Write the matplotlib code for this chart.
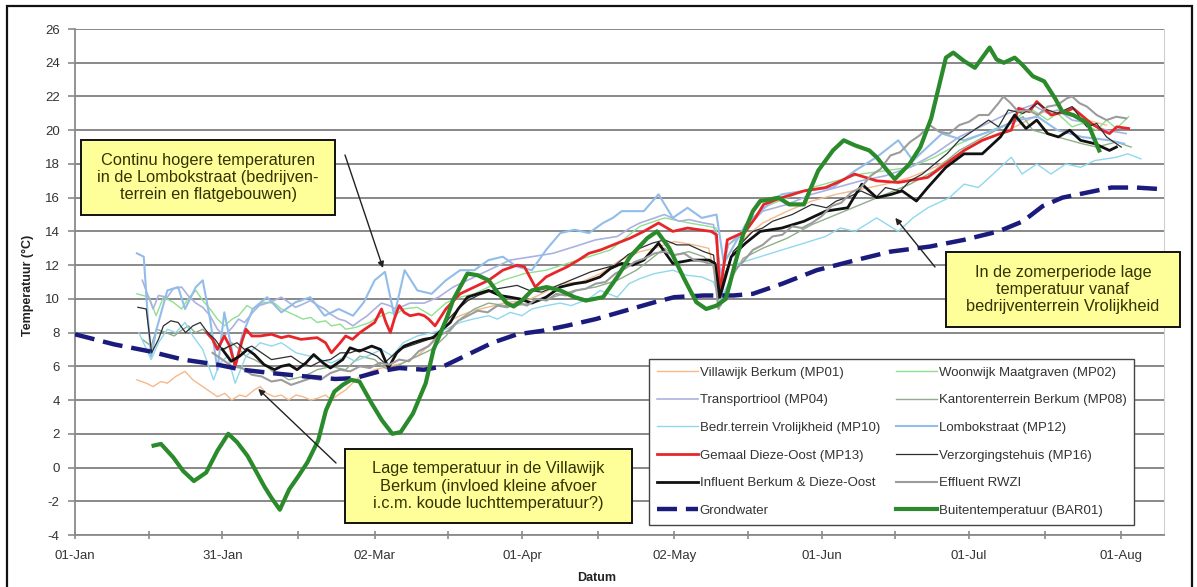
import numpy as np
import matplotlib
matplotlib.use("Agg")
import matplotlib.pyplot as plt
import matplotlib.dates as mdates
from matplotlib.patches import Rectangle

plt.rcParams['font.family'] = ['Liberation Sans', 'DejaVu Sans']
plt.rcParams['axes.unicode_minus'] = False

# Meetreeks 2008, (dag sinds 1 januari, temperatuur in graden C)
villawijk_mp01 = [(12.6, 5.2), (14.5, 5.0), (15.9, 4.8), (17.5, 5.1), (18.8, 5.0), (20.5, 5.4), (22.4, 5.7),
                  (24, 5.2), (26, 4.8), (27.5, 4.5), (29, 4.2), (30.5, 4.4), (31.9, 4.0), (33.5, 4.3), (34.8, 4.2),
                  (36.5, 4.6), (37.7, 4.8), (39, 4.4), (40.6, 4.2), (42, 4.3), (43.5, 4.0), (45, 4.3), (46.4, 4.2),
                  (48, 4.0), (49.3, 4.1), (51, 4.3), (52.2, 4.0), (53.5, 4.3), (55.1, 4.6), (56.5, 5.0), (58, 5.4),
                  (61, 5.8), (63.9, 6.0), (66.8, 6.2), (69.7, 6.6), (72.6, 7.4), (75.5, 8.6), (78.4, 9.0), (81, 9.3),
                  (84, 9.5), (88, 9.8), (92, 9.9), (95, 10.3), (99, 10.9), (103, 11.0), (107, 11.5), (111, 12.3),
                  (115, 12.8), (118, 13.0), (122, 13.4), (126, 13.2), (129, 13.0), (131, 10.5), (134, 12.8),
                  (137, 13.8), (140, 14.5), (145, 15.2), (150, 15.8), (155, 16.2), (160, 16.5), (165, 16.8),
                  (170, 17.2), (175, 17.8), (180, 18.6), (185, 19.4), (190, 20.0), (194, 20.6), (198, 21.2),
                  (202, 20.9), (206, 20.6), (210, 20.3)]

woonwijk_mp02 = [(12.6, 10.3), (15.1, 10.1), (16.5, 9.0), (18, 10.1), (20, 9.8), (21.7, 9.4), (23, 10.0),
                 (24.6, 10.5), (26, 9.9), (27.5, 9.4), (29, 8.8), (30.4, 8.4), (32, 8.8), (33.3, 9.0), (35, 9.6),
                 (36.2, 9.4), (38.5, 9.8), (40.6, 9.75), (42, 9.4), (43.5, 9.2), (45, 9.0), (46.4, 8.8), (48, 8.9),
                 (49.3, 8.6), (51, 8.7), (52.2, 8.4), (54, 8.5), (55.1, 8.2), (57, 8.3), (58, 8.4), (60, 8.6),
                 (61, 8.8), (62.5, 9.0), (63.9, 9.2), (65.5, 9.1), (66.8, 9.4), (69.7, 9.5), (72.6, 9.0),
                 (75.5, 9.75), (78.4, 10.1), (81.3, 10.3), (84.2, 10.7), (87.1, 11.1), (91.5, 11.5), (95.9, 11.7),
                 (100.2, 12.1), (104.6, 12.5), (109, 12.9), (112, 13.6), (115, 14.3), (118, 14.6), (120, 14.8),
                 (125, 14.5), (129, 14.3), (130.5, 14.2), (131.5, 11.0), (133, 13.2), (136, 13.8), (140, 15.4),
                 (145, 16.0), (150, 16.6), (155, 17.0), (160, 17.4), (165, 17.6), (170, 17.8), (175, 18.4),
                 (180, 19.2), (185, 19.8), (190, 20.4), (193, 21.0), (195, 21.2), (198, 20.6), (200, 21.0),
                 (203, 20.2), (205, 20.4), (208, 20.0), (210, 20.6), (212, 20.1), (214.5, 20.8)]

transportriool_mp04 = [(13.7, 11.1), (15.9, 9.4), (17, 10.2), (18.8, 10.1), (20, 10.6), (21.7, 10.7), (23, 10.2),
                       (24.6, 9.75), (26, 9.5), (27.5, 9.0), (29, 8.2), (30.4, 7.8), (32, 8.3), (33.3, 8.8),
                       (34.5, 8.6), (36.2, 9.2), (37.5, 9.6), (39.1, 9.75), (40.5, 9.9), (42, 10.1), (43.5, 9.8),
                       (44.9, 9.5), (46.5, 9.7), (47.9, 9.9), (49.5, 9.6), (50.8, 9.4), (52, 9.1), (53.7, 8.8),
                       (55, 8.7), (56.6, 8.4), (58, 8.7), (59.5, 9.0), (61, 9.4), (62.4, 9.75), (64, 9.6),
                       (65.3, 9.4), (67, 9.6), (68.2, 9.75), (71.1, 9.75), (74, 10.1), (77, 10.7), (79.9, 11.1),
                       (84.2, 11.7), (88.6, 12.3), (93, 12.5), (97.3, 12.7), (101.7, 13.1), (106, 13.5),
                       (110.4, 13.7), (113, 14.2), (115, 14.5), (118, 14.8), (120, 15.0), (123, 14.6), (125, 14.7),
                       (128, 14.5), (130, 14.4), (131.5, 11.5), (133, 13.2), (136, 14.0), (140, 15.2), (145, 15.6),
                       (150, 16.2), (155, 16.6), (160, 17.0), (165, 17.3), (170, 17.8), (175, 18.6), (180, 19.6),
                       (185, 20.3), (190, 21.0), (195, 21.5), (198, 21.0), (200, 21.2), (203, 20.6), (205, 20.5),
                       (208, 20.2), (210, 20.0), (214, 19.8)]

kantoren_mp08 = [(13.7, 7.6), (15.5, 7.2), (16.6, 8.2), (18.5, 8.0), (20.2, 7.8), (21.5, 8.1), (23.1, 8.4),
                 (24.5, 8.0), (26, 8.2), (27.5, 7.8), (29, 7.2), (30.5, 7.0), (31.9, 7.4), (33.5, 7.0), (34.8, 6.6),
                 (36.5, 6.4), (37.7, 6.2), (39, 6.0), (40.6, 5.6), (42, 5.5), (43.5, 5.2), (45, 5.3), (46.4, 5.4),
                 (48, 5.6), (49.3, 5.8), (50.8, 5.9), (52.2, 6.0), (53.5, 5.9), (55.1, 5.8), (56.5, 6.2), (58, 6.6),
                 (59.5, 6.5), (61, 6.4), (62.5, 6.0), (63.9, 5.8), (65.5, 6.0), (66.8, 6.2), (68, 6.4), (69.7, 6.6),
                 (72.6, 7.0), (75.5, 7.8), (78.4, 8.8), (81.3, 9.4), (84.2, 9.75), (88.6, 9.55), (93, 9.75),
                 (97.3, 10.1), (101.7, 10.5), (106, 10.7), (110.4, 11.1), (114.3, 11.7), (117, 12.3), (120, 13.0),
                 (122, 12.6), (125, 12.8), (128, 12.5), (130, 12.0), (131.5, 9.6), (134, 11.4), (136, 12.4),
                 (140, 13.0), (145, 13.6), (150, 14.4), (155, 15.0), (160, 15.6), (165, 16.2), (170, 16.8),
                 (175, 17.6), (180, 18.8), (185, 19.6), (190, 20.4), (193, 20.8), (195, 20.0), (200, 19.6),
                 (205, 19.2), (208, 19.0), (212, 19.3), (215, 19.0)]

vrolijkheid_mp10 = [(13, 8.0), (15.5, 6.4), (17, 7.4), (18.8, 8.2), (20.5, 8.0), (22.4, 8.6), (24, 7.8), (26, 7.0),
                    (28.2, 5.2), (29.5, 6.2), (31.1, 6.6), (32.6, 5.0), (34.8, 6.6), (37.7, 7.4), (40, 7.2),
                    (42, 7.4), (45, 6.8), (47.9, 6.6), (50, 6.4), (52.2, 6.2), (55.1, 6.6), (57, 6.3), (59.5, 6.6),
                    (62.4, 7.0), (64.6, 6.6), (66.8, 7.4), (69.7, 7.8), (72.6, 8.0), (75.5, 8.2), (78.4, 8.6),
                    (81, 8.8), (84.2, 9.0), (86, 8.8), (88.6, 9.2), (91, 9.0), (93, 9.4), (96, 9.6), (98.8, 9.75),
                    (101, 9.6), (104.6, 10.0), (106.9, 10.5), (110.4, 10.1), (112.8, 10.9), (115, 11.2),
                    (118, 11.5), (121.7, 11.7), (124.5, 11.4), (127.6, 11.3), (130, 11.0), (131.3, 9.9),
                    (135, 12.1), (139.5, 12.5), (143.9, 12.9), (148.4, 13.3), (152.8, 13.7), (155.8, 14.2),
                    (158.8, 14.0), (163.2, 14.8), (167.6, 14.0), (170.6, 14.8), (173.6, 15.4), (178, 16.0),
                    (181, 16.8), (183.9, 16.6), (186.9, 17.4), (190.6, 18.4), (192.8, 17.4), (195.8, 18.0),
                    (198.7, 17.4), (201.7, 18.0), (204.7, 17.8), (207.6, 18.2), (212.1, 18.4), (214.3, 18.6),
                    (217, 18.3)]

lombokstraat_mp12 = [(12.6, 12.7), (14, 12.5), (14.8, 9.0), (15.5, 6.6), (16.6, 8.2), (18.8, 10.5), (21, 10.7),
                     (22.4, 9.4), (24.6, 10.7), (26, 11.1), (27.5, 8.8), (29, 5.8), (30.4, 9.2), (32.6, 6.0),
                     (34, 7.8), (36.2, 9.4), (39.1, 10.1), (42, 9.2), (44.9, 9.8), (47.9, 10.1), (50.8, 9.0),
                     (53.7, 9.4), (56.6, 9.0), (58.8, 9.8), (61, 11.1), (63.1, 11.6), (65, 9.0), (67.1, 11.7),
                     (69.7, 10.5), (72.6, 10.3), (75.5, 11.1), (78.4, 11.7), (81.3, 11.7), (84.2, 12.3),
                     (87.1, 12.5), (90, 11.9), (93, 11.7), (95.9, 12.9), (98.8, 13.9), (101.7, 14.1),
                     (104.6, 13.9), (107.5, 14.5), (109.5, 14.8), (111.3, 15.2), (115.8, 15.2), (118.8, 16.2),
                     (121.7, 14.8), (124.7, 15.4), (127.6, 14.8), (130.6, 15.0), (132.1, 12.1), (136.5, 14.4),
                     (139.5, 15.2), (143.9, 16.2), (148.4, 16.4), (154.3, 16.6), (158.8, 17.6), (163.2, 18.4),
                     (167.6, 19.4), (170.6, 18.2), (176.5, 19.8), (181, 19.4), (187, 20.0), (192, 20.6),
                     (196, 20.8), (200, 20.0), (205, 19.6), (210.6, 19.4), (213.6, 19.2)]

gemaal_mp13 = [(26.8, 8.0), (28, 7.6), (29, 7.0), (30.4, 7.8), (31.5, 7.2), (32.6, 6.0), (34, 7.5), (34.8, 8.2),
               (36, 7.8), (37.7, 7.8), (40, 7.9), (42, 7.7), (43.5, 7.8), (46, 7.6), (49.3, 7.7), (51, 7.4),
               (52.2, 6.8), (54, 7.4), (55.1, 7.8), (56.5, 7.6), (58, 8.0), (59.5, 8.3), (61, 8.6), (62.4, 9.4),
               (63.3, 8.6), (64.2, 8.0), (65, 8.8), (66, 9.6), (67, 9.2), (68.2, 9.0), (70, 9.1), (71.1, 9.0),
               (72, 8.8), (73.3, 8.4), (75.5, 9.4), (78.4, 10.3), (81.3, 10.7), (84.2, 11.1), (87.1, 11.7),
               (90, 12.0), (91.5, 11.9), (93.7, 10.7), (95.9, 11.3), (98, 11.6), (100.2, 11.9), (102.5, 12.3),
               (104.6, 12.7), (107, 12.9), (110.4, 13.3), (113, 13.6), (115.8, 14.0), (118.8, 14.5), (121.7, 14.0),
               (124.7, 14.2), (127, 14.1), (129.5, 14.0), (130.6, 13.8), (131.3, 10.3), (132.8, 13.5),
               (136.5, 14.0), (138.5, 14.8), (140.2, 15.6), (143.9, 16.0), (148.4, 16.4), (152.8, 16.6),
               (156, 17.0), (158.7, 17.4), (163.2, 17.0), (167.6, 16.9), (173.6, 17.2), (177.3, 18.0),
               (181, 18.8), (184.7, 19.4), (188.4, 19.8), (190.6, 20.0), (192.1, 21.3), (194.3, 21.1),
               (195.8, 21.7), (198.7, 20.9), (201.7, 21.1), (203.2, 21.3), (206.9, 20.4), (209.1, 20.0),
               (210.6, 19.8), (212.1, 20.2), (214.5, 20.1)]

verzorging_mp16 = [(12.8, 9.5), (14.5, 9.4), (15.6, 6.8), (17, 7.6), (18, 8.4), (19.5, 8.7), (21, 8.6), (22.5, 8.0),
                   (24, 8.4), (25.5, 8.6), (27, 8.0), (28.5, 7.6), (30, 7.0), (31.5, 7.2), (33, 7.4), (34.5, 7.0),
                   (36, 7.2), (38, 6.8), (40, 6.4), (42, 6.5), (44, 6.6), (46, 6.2), (48, 6.0), (50, 6.3),
                   (52, 6.4), (54, 6.8), (56, 6.8), (58, 7.0), (60, 6.8), (61.5, 6.6), (63, 6.2), (64.5, 6.6),
                   (66, 7.0), (68, 7.2), (70, 7.4), (72, 7.6), (74, 8.0), (76, 8.8), (78, 9.4), (80, 9.9),
                   (82, 10.2), (84, 10.4), (86, 10.6), (88, 10.7), (90, 10.8), (92.5, 10.5), (95, 10.4),
                   (97.5, 10.7), (100, 11.0), (102.5, 11.3), (105, 11.6), (107.5, 11.8), (110, 12.0), (112.5, 12.6),
                   (115, 13.0), (117.5, 13.3), (120, 13.5), (122.5, 13.2), (125, 13.2), (128, 12.8), (130, 12.6),
                   (131, 10.0), (132.5, 11.6), (134, 12.8), (136, 13.4), (138, 14.0), (140, 14.2), (142, 14.6),
                   (146, 15.0), (150, 15.6), (153, 15.4), (155, 15.8), (158, 16.1), (160, 16.4), (163, 16.0),
                   (165, 16.6), (168, 16.4), (170, 17.0), (172.5, 17.4), (175, 18.0), (177.5, 18.6), (180, 19.4),
                   (183, 20.0), (186, 20.6), (188, 20.2), (190, 21.2), (193, 21.0), (196, 21.6), (198, 21.2),
                   (200, 21.0), (203, 21.4), (206, 20.2), (208, 20.4), (210, 19.6), (213, 19.0)]

influent = [(30, 7.0), (31.8, 6.3), (33.5, 6.6), (35.1, 7.0), (36.5, 6.7), (38.5, 6.1), (40.6, 5.8), (42, 6.0),
            (43.6, 6.1), (45.2, 5.8), (47, 6.2), (48.6, 6.7), (50.5, 6.2), (52, 5.9), (54.5, 6.4), (56, 7.1),
            (57.9, 6.9), (60.4, 7.2), (62.2, 7.0), (63.8, 5.9), (65.5, 6.8), (67, 7.2), (68.8, 7.4), (71, 7.6),
            (73, 7.7), (74.8, 8.2), (76.4, 8.6), (78, 9.4), (79.9, 10.1), (82, 10.3), (84.2, 10.5), (86.5, 10.2),
            (88.6, 10.1), (90.5, 10.0), (93, 9.75), (95.9, 10.1), (98.8, 10.7), (101.7, 10.9), (104, 11.0),
            (106.9, 11.3), (109, 11.8), (111.3, 12.1), (113.5, 12.0), (115.8, 12.3), (118.8, 13.3),
            (121.7, 12.1), (125.4, 12.3), (129.1, 12.3), (130.3, 12.1), (131.3, 10.1), (133.6, 12.5),
            (136.5, 13.3), (139.5, 14.0), (143.9, 14.2), (148.4, 14.6), (152.8, 15.2), (157.3, 15.4),
            (160.2, 16.8), (163.2, 16.0), (166.2, 16.2), (168.4, 16.4), (171.3, 15.8), (173.6, 16.6),
            (177.3, 17.8), (181, 18.6), (184.7, 18.6), (188.4, 19.6), (191.3, 20.9), (193.6, 20.1),
            (195.8, 20.6), (198, 19.8), (200.2, 19.6), (202.5, 20.0), (204.7, 19.4), (207.6, 19.2),
            (210.6, 18.8), (212, 19.0)]

effluent = [(28, 6.8), (30, 6.4), (32, 6.0), (34, 5.9), (36, 5.5), (38, 5.4), (40, 5.1), (42, 5.2), (44, 4.9),
            (46, 5.1), (48, 5.3), (50, 5.2), (52, 5.6), (54, 5.8), (56, 5.7), (58, 6.0), (60, 5.9), (62, 6.2),
            (64, 6.1), (66, 6.4), (68, 6.3), (70, 6.9), (72, 7.2), (74, 7.8), (76, 8.1), (78, 8.7), (80, 9.0),
            (82, 9.3), (84, 9.2), (86, 9.6), (88, 9.5), (90, 9.8), (92, 9.6), (94, 10.0), (96, 9.9), (98, 10.3),
            (100, 10.2), (102, 10.5), (104, 10.6), (106, 10.9), (108, 11.0), (110, 11.5), (112, 11.8), (114, 12.2),
            (116, 12.4), (118, 12.7), (120, 12.8), (122, 12.6), (124, 12.7), (126, 12.3), (128, 12.2), (130, 12.0),
            (131, 9.4), (132.5, 10.4), (134, 11.6), (136, 12.2), (138, 12.9), (140, 13.2), (142, 13.7),
            (144, 13.8), (146, 14.3), (148, 14.2), (150, 14.5), (152, 14.9), (154, 15.5), (156, 15.7), (158, 16.3),
            (160, 16.6), (162, 17.3), (164, 17.7), (166, 18.5), (168, 18.7), (170, 19.3), (172, 19.7), (174, 20.3),
            (176, 19.9), (178, 19.8), (180, 20.3), (182, 20.5), (184, 20.9), (186, 20.9), (188, 21.6), (189, 22.0),
            (190.5, 21.6), (192, 21.1), (194, 21.2), (196, 20.9), (198, 21.4), (200, 21.5), (202, 21.9),
            (203, 22.0), (204.5, 21.6), (206, 21.4), (208, 20.9), (210, 20.6), (212, 20.8), (214, 20.7)]

grondwater = [(0, 7.9), (8, 7.3), (15, 6.9), (22, 6.4), (29, 6.1), (34, 5.8), (40, 5.6), (47, 5.4), (53, 5.25),
              (57, 5.3), (62, 5.7), (66, 5.9), (71, 5.8), (75, 6.0), (80, 6.7), (85, 7.4), (90, 7.9), (95, 8.1),
              (100, 8.4), (106, 8.8), (112, 9.3), (118, 9.8), (122, 10.1), (128, 10.2), (134, 10.2), (138, 10.3),
              (144, 10.9), (151, 11.7), (159, 12.3), (166, 12.8), (174, 13.1), (181, 13.5), (188, 14.0),
              (193, 14.6), (197, 15.5), (201, 16.0), (206, 16.3), (211, 16.6), (216, 16.6), (221.5, 16.5)]

buiten_bar01 = [(16, 1.3), (17.5, 1.4), (20, 0.6), (22, -0.2), (24.2, -0.8), (26.7, -0.3), (29, 1.0), (31.2, 2.0),
                (33, 1.5), (35.1, 0.7), (37, -0.3), (38.5, -1.1), (40, -1.8), (41.7, -2.5), (43.6, -1.3),
                (45.5, -0.5), (47.3, 0.3), (49.5, 1.6), (51.1, 3.4), (52.8, 4.5), (54.5, 4.9), (56.2, 5.2),
                (57.9, 5.1), (60.4, 3.8), (62.5, 2.8), (64.6, 2.0), (66.3, 2.1), (68.8, 3.2), (71.4, 5.0), (73, 7.0),
                (75.6, 8.8), (77, 9.95), (79.9, 11.5), (82, 11.4), (84.2, 11.1), (86, 10.4), (87.9, 9.75),
                (89.3, 9.55), (91, 9.9), (93, 10.5), (96, 10.7), (98.8, 10.5), (101.7, 10.1), (104, 9.9),
                (107.5, 10.1), (110.4, 11.3), (113, 12.5), (116.5, 13.6), (118.5, 14.0), (121, 13.0), (124, 11.2),
                (126.5, 9.8), (128.5, 9.4), (130.6, 9.6), (132.5, 10.0), (134.3, 12.0), (136, 13.8), (138, 15.2),
                (139.5, 15.8), (141.5, 15.9), (143.2, 16.0), (145.4, 15.6), (148.4, 15.6), (151.3, 17.6),
                (154.3, 18.8), (156.5, 19.4), (158.8, 19.1), (161.7, 18.8), (163.2, 18.4), (165.4, 17.6),
                (166.9, 17.1), (169.9, 18.0), (172.1, 19.0), (174.3, 20.7), (175.8, 22.5), (177.3, 24.3),
                (178.8, 24.6), (181, 24.1), (183.2, 23.7), (184.7, 24.3), (186.2, 24.9), (187.6, 24.2),
                (189.1, 24.0), (191.3, 24.3), (192.8, 23.9), (195, 23.2), (197.3, 22.9), (199.5, 21.9),
                (201, 21.1), (203.2, 20.9), (206.2, 20.4), (208.5, 18.8)]

start = np.datetime64('2008-01-01T00:00')
tick_dates = ['2008-01-01', '2008-01-31', '2008-03-02', '2008-04-01',
              '2008-05-02', '2008-06-01', '2008-07-01', '2008-08-01']


def series(pairs):
    days = np.array([p[0] for p in pairs])
    temps = np.array([p[1] for p in pairs])
    return start + (days * 1440).astype('int64').astype('timedelta64[m]'), temps


W, H = 1197, 587
fig = plt.figure(figsize=(W / 100, H / 100), dpi=100)
ax = fig.add_axes([75 / W, 1 - 535 / H, (1164 - 75) / W, (535 - 29) / H])

lines = [
    (villawijk_mp01, 'Villawijk Berkum (MP01)', '#f5b98c', 1.0, '-'),
    (woonwijk_mp02, 'Woonwijk Maatgraven (MP02)', '#8fe08f', 1.0, '-'),
    (transportriool_mp04, 'Transportriool (MP04)', '#aab2e0', 1.2, '-'),
    (kantoren_mp08, 'Kantorenterrein Berkum (MP08)', '#8fae8a', 1.0, '-'),
    (vrolijkheid_mp10, 'Bedr.terrein Vrolijkheid (MP10)', '#8fd8ee', 1.0, '-'),
    (lombokstraat_mp12, 'Lombokstraat (MP12)', '#92bdea', 1.5, '-'),
    (gemaal_mp13, 'Gemaal Dieze-Oost (MP13)', '#e8262a', 2.0, '-'),
    (verzorging_mp16, 'Verzorgingstehuis (MP16)', '#2e2e2e', 0.9, '-'),
    (influent, 'Influent Berkum & Dieze-Oost', '#111111', 2.0, '-'),
    (effluent, 'Effluent RWZI', '#9c9c9c', 1.5, '-'),
    (grondwater, 'Grondwater', '#1b1b7e', 3.2, (0, (4.5, 2.0))),
    (buiten_bar01, 'Buitentemperatuur (BAR01)', '#2b8a2b', 3.0, '-'),
]
handles = {}
for pairs, label, color, lw, ls in lines:
    x, y = series(pairs)
    h, = ax.plot(x, y, color=color, lw=lw, ls=ls, label=label, zorder=3)
    handles[label] = h

ax.set_ylim(-4, 26)
ax.set_yticks(np.arange(-4, 27, 2))
ax.set_xlim(start, start + np.timedelta64(int(221.7 * 1440), 'm'))
majors = mdates.date2num(np.array(tick_dates, dtype='datetime64[D]'))
ax.set_xticks(majors)
ax.set_xticks((majors[:-1] + majors[1:]) / 2, minor=True)
ax.xaxis.set_major_formatter(mdates.DateFormatter('%d-%b'))

ax.grid(axis='y', color='#7f7f7f', lw=1.3, zorder=1)
ax.set_axisbelow(True)
for side in ('left', 'bottom'):
    ax.spines[side].set_color('#8a8a8a')
    ax.spines[side].set_linewidth(1.3)
ax.spines['top'].set_visible(False)
ax.spines['right'].set_color('#d0d0d0')
ax.spines['right'].set_linewidth(0.8)
ax.tick_params(axis='x', which='both', direction='inout', length=6, width=1.2, color='#8a8a8a',
               labelsize=9.5, labelcolor='#333333', pad=8)
ax.tick_params(axis='y', direction='out', length=5, width=1.2, color='#8a8a8a',
               labelsize=9.5, labelcolor='#333333', pad=6)

fig.text(28 / W, 1 - 285 / H, 'Temperatuur (°C)', rotation=90, ha='center', va='center',
         fontsize=9, fontweight='bold', color='#222222')
fig.text(597 / W, 1 - 578 / H, 'Datum', ha='center', va='center', fontsize=9, fontweight='bold', color='#222222')

# legenda: eerste kolom links, tweede rechts
order = ['Villawijk Berkum (MP01)', 'Transportriool (MP04)', 'Bedr.terrein Vrolijkheid (MP10)',
         'Gemaal Dieze-Oost (MP13)', 'Influent Berkum & Dieze-Oost', 'Grondwater',
         'Woonwijk Maatgraven (MP02)', 'Kantorenterrein Berkum (MP08)', 'Lombokstraat (MP12)',
         'Verzorgingstehuis (MP16)', 'Effluent RWZI', 'Buitentemperatuur (BAR01)']
leg = ax.legend([handles[k] for k in order], order, ncol=2, loc='lower left',
                bbox_to_anchor=((649 - 75) / 1089, (535 - 525) / 506), borderaxespad=0,
                fontsize=9.5, frameon=True, fancybox=False, framealpha=1, edgecolor='#444444',
                handlelength=3.1, handletextpad=0.15, columnspacing=1.2, labelspacing=1.17, borderpad=0.6)
leg.get_frame().set_linewidth(1.0)
leg.set_zorder(6)
for t in leg.get_texts():
    t.set_color('#333333')

# tekstballonnen met pijlen
notes = [
    ((81, 140, 335, 215), 'Continu hogere temperaturen\nin de Lombokstraat (bedrijven-\nterrein en flatgebouwen)',
     (345, 155), (62.7, 11.83)),
    ((345, 449, 632, 523), 'Lage temperatuur in de Villawijk\nBerkum (invloed kleine afvoer\ni.c.m. koude luchttemperatuur?)',
     (336, 463), (37.3, 4.66)),
    ((946, 252, 1180, 327), 'In de zomerperiode lage\ntemperatuur vanaf\nbedrijventerrein Vrolijkheid',
     (935, 267), (167.0, 14.8)),
]
for (x0, y0, x1, y1), txt, tail, tip in notes:
    fig.patches.append(Rectangle((x0 / W, 1 - y1 / H), (x1 - x0) / W, (y1 - y0) / H,
                                 transform=fig.transFigure, facecolor='#ffff99', edgecolor='#111111',
                                 lw=1.4, zorder=7))
    fig.text((x0 + x1) / 2 / W, 1 - (y0 + y1) / 2 / H, txt, ha='center', va='center', multialignment='center',
             fontsize=11.8, color='#333300', linespacing=1.2, zorder=8)
    tip_x = start + np.timedelta64(int(tip[0] * 1440), 'm')
    ax.annotate('', xy=(mdates.date2num(tip_x), tip[1]), xycoords='data',
                xytext=(tail[0] / W, 1 - tail[1] / H), textcoords='figure fraction',
                arrowprops=dict(arrowstyle='-|>', color='#222222', lw=1.0, mutation_scale=9,
                                shrinkA=0, shrinkB=0), zorder=7)

fig.patches.append(Rectangle((7 / W, -0.02), (1192 - 7) / W, 1.02 - 6 / H, transform=fig.transFigure,
                             fill=False, edgecolor='#111111', lw=1.6))

fig.savefig('out.png', dpi=100)
